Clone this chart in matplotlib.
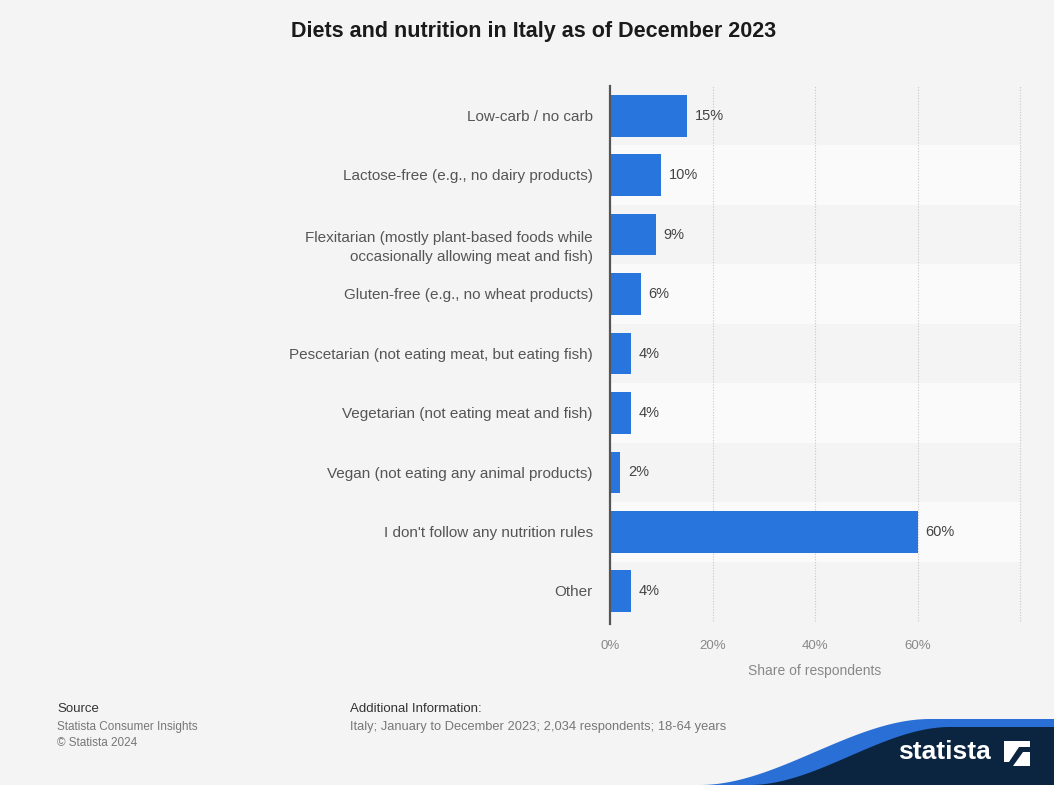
import numpy as np
import matplotlib.pyplot as plt
from matplotlib.patches import Polygon

plt.rcParams['font.family'] = ['Liberation Sans', 'DejaVu Sans']

categories = [
    "Low-carb / no carb",
    "Lactose-free (e.g., no dairy products)",
    "Flexitarian (mostly plant-based foods while\noccasionally allowing meat and fish)",
    "Gluten-free (e.g., no wheat products)",
    "Pescetarian (not eating meat, but eating fish)",
    "Vegetarian (not eating meat and fish)",
    "Vegan (not eating any animal products)",
    "I don't follow any nutrition rules",
    "Other",
]
values = [15, 10, 9, 6, 4, 4, 2, 60, 4]
xticks = [0, 20, 40, 60, 80]
xtick_labels = ["0%", "20%", "40%", "60%", ""]

bg = "#f4f4f4"
fig = plt.figure(figsize=(10.54, 7.85), dpi=100, facecolor=bg)
W, H = 1054, 785


def fx(px):
    return px / W


def fy(py):
    return 1 - py / H


# axes in pixel coords: left 610, right 1020, top 86, bottom 621
ax = fig.add_axes([fx(610), fy(621), 410 / W, 535 / H])
ax.set_facecolor(bg)

n = len(categories)
y = np.arange(n)

# alternating row bands
for i in range(n):
    if i % 2 == 1:
        ax.axhspan(i - 0.5, i + 0.5, color="#fafafa", zorder=0, lw=0)

for xv in xticks[1:]:
    ax.axvline(xv, color="#c8c8c8", ls=(0, (1, 1.5)), lw=0.8, zorder=1,
               clip_on=False)

ax.barh(y, values, height=0.7, color="#2876dd", zorder=2)
for yi, v in zip(y, values):
    ax.text(v + 1.5, yi, f"{v}%", va="center", ha="left", fontsize=10.5,
            color="#444444", zorder=3)

# category labels (multi-line label hangs below the row centre, as in original)
for yi, lab in zip(y, categories):
    dy = -9.5 if "\n" in lab else -0.8
    ax.annotate(lab, xy=(0, yi), xycoords=("axes fraction", "data"),
                xytext=(-12.3, dy), textcoords="offset points",
                ha="right", va="center", fontsize=11, color="#555555",
                linespacing=1.45, multialignment="right")

ax.set_xlim(0, 80)
ax.set_ylim(n - 0.5, -0.5)
ax.set_yticks([])
ax.set_xticks(xticks)
ax.set_xticklabels(xtick_labels, fontsize=9.5, color="#888888")
ax.tick_params(axis="both", length=0)
ax.tick_params(axis="x", pad=14)
for s in ax.spines.values():
    s.set_visible(False)
ax.plot([0, 0], [-0.5, n - 0.5 + 0.05], color="#555555", lw=1.6, zorder=4,
        clip_on=False)
ax.set_xlabel("Share of respondents", fontsize=10, color="#888888", labelpad=8)

fig.text(fx(534), fy(31), "Diets and nutrition in Italy as of December 2023",
         ha="center", va="center", fontsize=15.5, fontweight="bold",
         color="#1a1a1a")

# footer
fig.text(fx(57), fy(709), "Source", fontsize=9.5, color="#333333", va="center")
fig.text(fx(57), fy(727), "Statista Consumer Insights", fontsize=8.5,
         color="#777777", va="center")
fig.text(fx(57), fy(743), "\u00a9 Statista 2024", fontsize=8.5,
         color="#777777", va="center")
fig.text(fx(350), fy(709), "Additional Information:", fontsize=9.5,
         color="#333333", va="center")
fig.text(fx(350), fy(727),
         "Italy; January to December 2023; 2,034 respondents; 18-64 years",
         fontsize=9.3, color="#777777", va="center")

# logo swoosh
t = np.linspace(0, 1, 60)
s = 3 * t ** 2 - 2 * t ** 3
bx = 700 + 230 * t
by = 785 - 66 * s
nx = 750 + 200 * t
ny = 785 - 58 * s
blue = [(fx(a), fy(b)) for a, b in zip(bx, by)] + [(1, fy(719)), (1, 0)]
fig.patches.append(Polygon(blue, closed=True, transform=fig.transFigure,
                           facecolor="#2a6fd6", edgecolor="none"))
navy = [(fx(a), fy(b)) for a, b in zip(nx, ny)] + [(1, fy(727)), (1, 0)]
fig.patches.append(Polygon(navy, closed=True, transform=fig.transFigure,
                           facecolor="#0b2440", edgecolor="none"))
fig.text(fx(944), fy(752), "statista", fontsize=19, fontweight="bold",
         color="white", ha="center", va="center")
fig.patches.append(Polygon([(fx(1004), fy(766)), (fx(1030), fy(766)),
                            (fx(1030), fy(741)), (fx(1004), fy(741))],
                           closed=True, transform=fig.transFigure,
                           facecolor="white", edgecolor="none"))
fig.patches.append(Polygon([(fx(1004), fy(762)), (fx(1009), fy(762)),
                            (fx(1019), fy(747)), (fx(1030), fy(747)),
                            (fx(1030), fy(752)), (fx(1023), fy(752)),
                            (fx(1013), fy(766)), (fx(1004), fy(766))],
                           closed=True, transform=fig.transFigure,
                           facecolor="#0b2440", edgecolor="none"))

fig.savefig("out.png", dpi=100, facecolor=bg)
